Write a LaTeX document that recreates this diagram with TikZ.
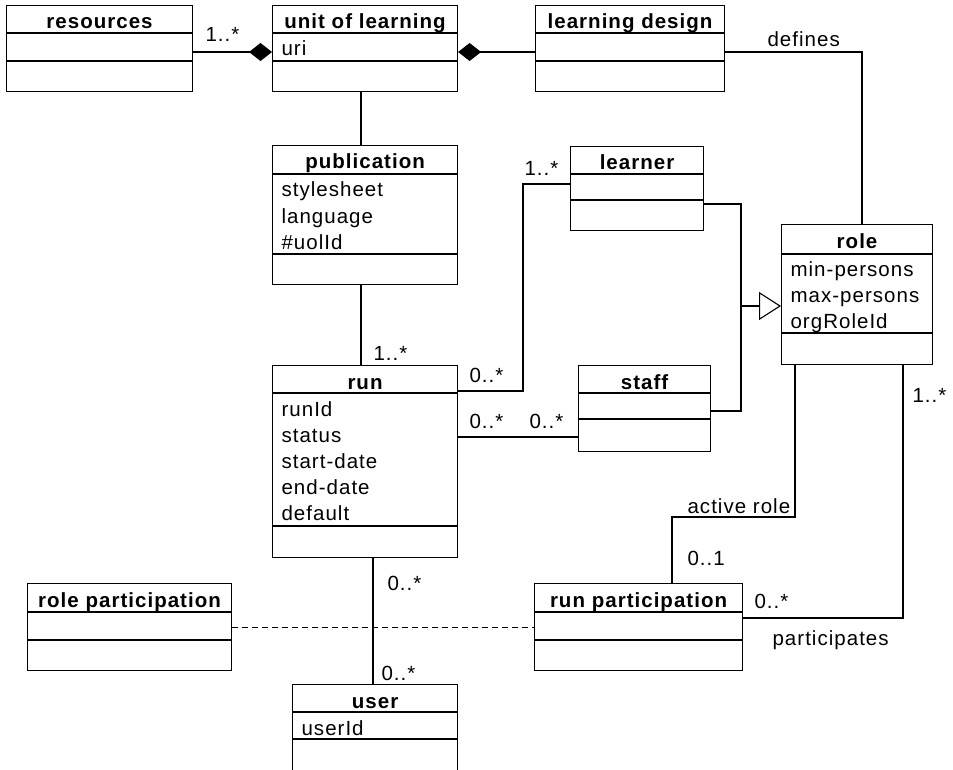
\documentclass[tikz,border=0pt]{standalone}
\usepackage{fontspec}
\setmainfont{Liberation Sans}[LetterSpace=5]
\usetikzlibrary{arrows.meta}

\tikzset{
  every node/.style={font=\fontsize{20.5}{24}\selectfont, inner sep=0pt},
  classbox/.style={draw, rectangle, anchor=north west, line width=1.1pt},
  ctitle/.style={anchor=base, font=\fontsize{20.5}{24}\selectfont\bfseries},
  attr/.style={anchor=base west, xshift=9pt},
  mult/.style={anchor=base west},
  compo/.style={{Diamond[length=23pt,width=18pt]}-},
  isa/.style={-{Triangle[open,length=22pt,width=28pt,fill=white]}},
}

\begin{document}
\begin{tikzpicture}[x=1pt, y=-1pt, line width=1.1pt]
  \useasboundingbox (0,0) rectangle (953,770);

  % classes
  \node[classbox, minimum width=186pt, minimum height=86pt] (res) at (6,5) {};
  \node[ctitle] (res-t) at (res.north |- 0,29) {resources};
  \draw (res.west |- 0,33) -- (res.east |- 0,33);
  \draw (res.west |- 0,61) -- (res.east |- 0,61);

  \node[classbox, minimum width=185pt, minimum height=86pt] (uol) at (272,5) {};
  \node[ctitle] (uol-t) at (uol.north |- 0,29) {unit of learning};
  \draw (uol.west |- 0,33) -- (uol.east |- 0,33);
  \node[attr] (uol-a1) at (uol.west |- 0,56) {uri};
  \draw (uol.west |- 0,61) -- (uol.east |- 0,61);

  \node[classbox, minimum width=189pt, minimum height=86pt] (ld) at (535,5) {};
  \node[ctitle] (ld-t) at (ld.north |- 0,29) {learning design};
  \draw (ld.west |- 0,33) -- (ld.east |- 0,33);
  \draw (ld.west |- 0,61) -- (ld.east |- 0,61);

  \node[classbox, minimum width=185pt, minimum height=139pt] (pub) at (272,145) {};
  \node[ctitle] (pub-t) at (pub.north |- 0,169) {publication};
  \draw (pub.west |- 0,174) -- (pub.east |- 0,174);
  \node[attr] (pub-a1) at (pub.west |- 0,197) {stylesheet};
  \node[attr] (pub-a2) at (pub.west |- 0,223) {language};
  \node[attr] (pub-a3) at (pub.west |- 0,249) {\#uolId};
  \draw (pub.west |- 0,254) -- (pub.east |- 0,254);

  \node[classbox, minimum width=133pt, minimum height=84pt] (learner) at (570,146) {};
  \node[ctitle] (learner-t) at (learner.north |- 0,170) {learner};
  \draw (learner.west |- 0,174) -- (learner.east |- 0,174);
  \draw (learner.west |- 0,200) -- (learner.east |- 0,200);

  \node[classbox, minimum width=151pt, minimum height=140pt] (role) at (781,224) {};
  \node[ctitle] (role-t) at (role.north |- 0,248) {role};
  \draw (role.west |- 0,254) -- (role.east |- 0,254);
  \node[attr] (role-a1) at (role.west |- 0,276) {min-persons};
  \node[attr] (role-a2) at (role.west |- 0,302) {max-persons};
  \node[attr] (role-a3) at (role.west |- 0,328) {orgRoleId};
  \draw (role.west |- 0,333) -- (role.east |- 0,333);

  \node[classbox, minimum width=185pt, minimum height=192pt] (run) at (272,365) {};
  \node[ctitle] (run-t) at (run.north |- 0,389) {run};
  \draw (run.west |- 0,393) -- (run.east |- 0,393);
  \node[attr] (run-a1) at (run.west |- 0,416) {runId};
  \node[attr] (run-a2) at (run.west |- 0,442) {status};
  \node[attr] (run-a3) at (run.west |- 0,468) {start-date};
  \node[attr] (run-a4) at (run.west |- 0,494) {end-date};
  \node[attr] (run-a5) at (run.west |- 0,520) {default};
  \draw (run.west |- 0,526) -- (run.east |- 0,526);

  \node[classbox, minimum width=132pt, minimum height=86pt] (staff) at (578,365) {};
  \node[ctitle] (staff-t) at (staff.north |- 0,389) {staff};
  \draw (staff.west |- 0,393) -- (staff.east |- 0,393);
  \draw (staff.west |- 0,419) -- (staff.east |- 0,419);

  \node[classbox, minimum width=204pt, minimum height=87pt] (rolep) at (27,583) {};
  \node[ctitle] (rolep-t) at (rolep.north |- 0,607) {role participation};
  \draw (rolep.west |- 0,612) -- (rolep.east |- 0,612);
  \draw (rolep.west |- 0,640) -- (rolep.east |- 0,640);

  \node[classbox, minimum width=208pt, minimum height=87pt] (runp) at (534,583) {};
  \node[ctitle] (runp-t) at (runp.north |- 0,607) {run participation};
  \draw (runp.west |- 0,612) -- (runp.east |- 0,612);
  \draw (runp.west |- 0,640) -- (runp.east |- 0,640);

  \node[classbox, minimum width=165pt, minimum height=120pt] (user) at (292,684) {};
  \node[ctitle] (user-t) at (user.north |- 0,708) {user};
  \draw (user.west |- 0,712) -- (user.east |- 0,712);
  \node[attr] (user-a1) at (user.west |- 0,735) {userId};
  \draw (user.west |- 0,739) -- (user.east |- 0,739);

  % associations
  \draw[compo] (uol.west |- 0,52) -- (res.east |- 0,52);
  \node[mult] (m-res) at (205,42) {1..*};
  \draw[compo] (uol.east |- 0,52) -- (ld.west |- 0,52);
  \draw (ld.east |- 0,52) -| (862,0 |- role.north);
  \node[mult] (l-def) at (767,47) {defines};

  \draw (361,0 |- uol.south) -- (361,0 |- pub.north);
  \draw (361,0 |- pub.south) -- (361,0 |- run.north);
  \node[mult] (m-run) at (373,360) {1..*};

  \draw (run.east |- 0,391) -| (523,184) -- (learner.west |- 0,184);
  \node[mult] (m-run-l) at (469,382) {0..*};
  \node[mult] (m-learner) at (524,176) {1..*};

  \draw (run.east |- 0,437) -- (staff.west |- 0,437);
  \node[mult] (m-run-s) at (469,428) {0..*};
  \node[mult] (m-staff) at (529,428) {0..*};

  % generalisation
  \draw (learner.east |- 0,204) -| (741,306);
  \draw (staff.east |- 0,411) -| (741,306);
  \draw[isa] (741,306) -- (role.west |- 0,306);

  \draw (795,0 |- role.south) |- (672,517) -- (672,0 |- runp.north);
  \node[mult] (l-active) at (687,513) {active role};
  \node[mult] (m-active) at (687,565) {0..1};

  \draw (903,0 |- role.south) |- (runp.east |- 0,618);
  \node[mult] (m-role) at (912,402) {1..*};
  \node[mult] (m-runp) at (754,608) {0..*};
  \node[mult] (l-part) at (772,645) {participates};

  \draw (373,0 |- run.south) -- (373,0 |- user.north);
  \node[mult] (m-run-u) at (387,590) {0..*};
  \node[mult] (m-user) at (381,680) {0..*};

  \draw[dashed, dash pattern=on 6pt off 4pt, line width=0.9pt] (rolep.east |- 0,627) -- (runp.west |- 0,627);
\end{tikzpicture}
\end{document}
